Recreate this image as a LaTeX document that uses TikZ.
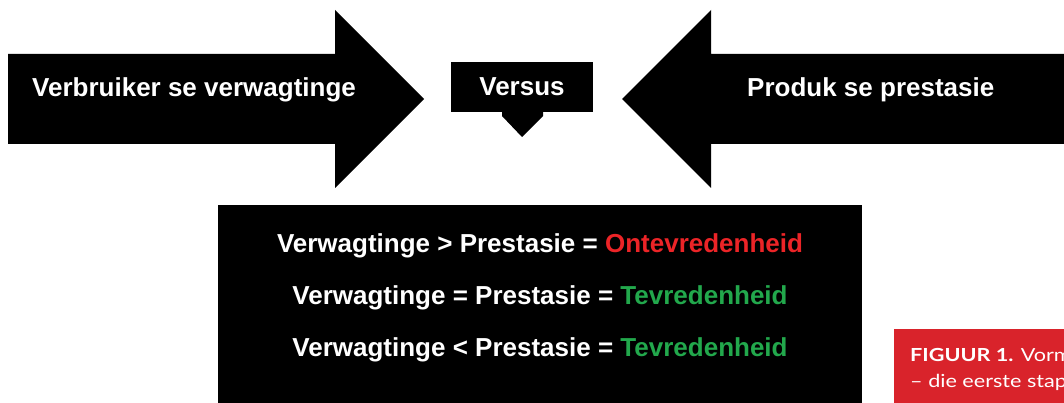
\documentclass[tikz,border=0pt]{standalone}
\usepackage{fontspec}
\setmainfont{Liberation Sans}
\newfontfamily\capfont[FakeStretch=1.2]{Lato}
\definecolor{ored}{HTML}{EC2427}
\definecolor{tgreen}{HTML}{22A84C}
\definecolor{capred}{HTML}{D9232B}
\begin{document}
\begin{tikzpicture}[x=1pt,y=-1pt,
  lbl/.style={text=white,font=\bfseries\fontsize{26}{30}\selectfont,inner sep=0pt},
  restxt/.style={text=white,font=\bfseries\fontsize{26}{30}\selectfont,inner sep=0pt,anchor=base},
  captxt/.style={text=white,font=\capfont\fontsize{18}{20}\selectfont,inner sep=0pt,anchor=base west}]
\useasboundingbox (0,0) rectangle (1064,403);
\clip (0,0) rectangle (1064,403);
% big arrows
\fill[black] (8,54) -- (335,54) -- (335,10) -- (424,99) -- (335,188) -- (335,144) -- (8,144) -- cycle;
\fill[black] (1070,54) -- (711,54) -- (711,10) -- (622,99) -- (711,188) -- (711,144) -- (1070,144) -- cycle;
\node[lbl,anchor=base west] (cons) at (32,97) {Verbruiker se verwagtinge};
\node[lbl,anchor=base west] (prod) at (747,97) {Produk se prestasie};
% versus
\fill[black] (502,110) -- (543,110) -- (543,116) -- (522,137) -- (502,116) -- cycle;
\node[fill=black,text=white,font=\bfseries\fontsize{26}{30}\selectfont,minimum width=142pt,minimum height=50pt,inner sep=0pt] (versus) at (522,87) {Versus};
% result box
\node[fill=black,anchor=north west,minimum width=644pt,minimum height=210pt,inner sep=0pt] (box) at (218,205) {};
\node[restxt] (l1) at (540,252) {Verwagtinge > Prestasie = \textcolor{ored}{Ontevredenheid}};
\node[restxt] (l2) at (540,304) {Verwagtinge = Prestasie = \textcolor{tgreen}{Tevredenheid}};
\node[restxt] (l3) at (540,356) {Verwagtinge < Prestasie = \textcolor{tgreen}{Tevredenheid}};
% caption
\node[fill=capred,anchor=north west,minimum width=180pt,minimum height=80pt,inner sep=0pt] (capbox) at (894,329) {};
\node[captxt] (c1) at (910,361) {\textbf{FIGUUR 1.} Vorm};
\node[captxt] (c2) at (910,387) {– die eerste stap};
\end{tikzpicture}
\end{document}
